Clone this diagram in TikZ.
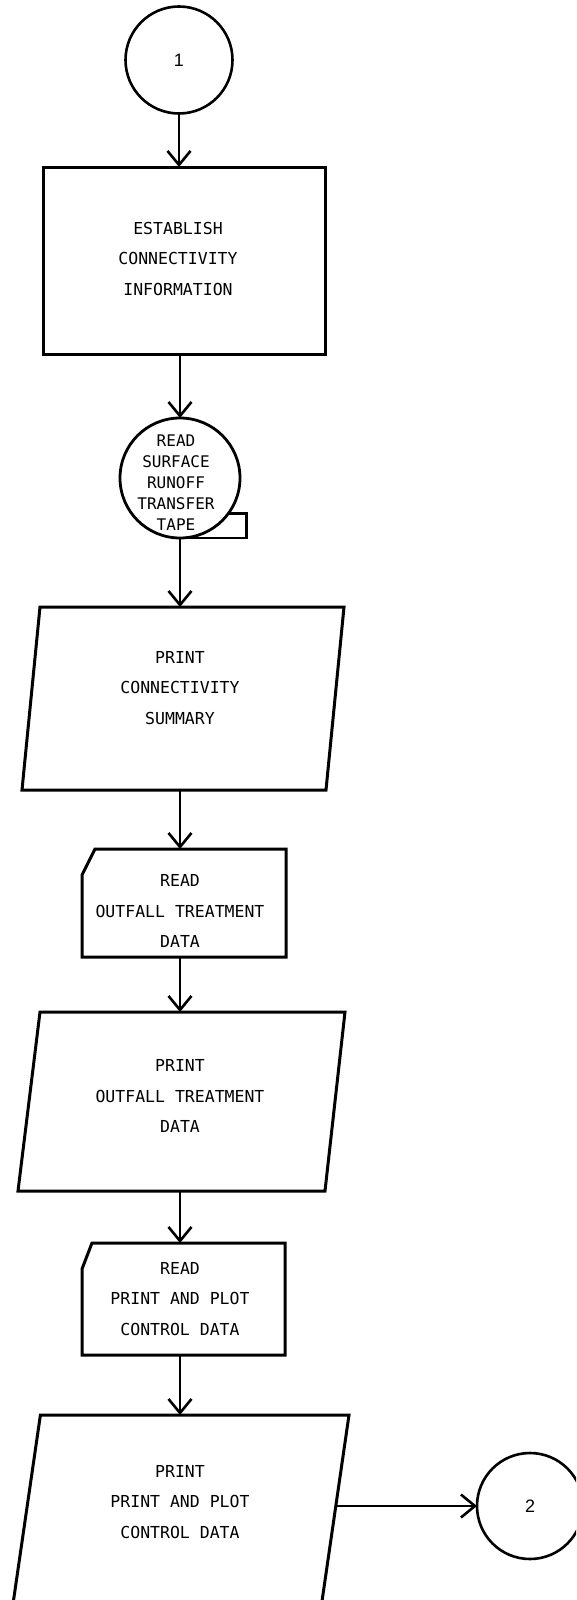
\documentclass[tikz,border=0pt]{standalone}
\usepackage{fontspec}
\newfontfamily\chartfont{DejaVu Sans Mono}
\newfontfamily\numfont{Liberation Sans}
\usetikzlibrary{arrows.meta,calc}
\begin{document}
\begin{tikzpicture}[x=1pt,y=-1pt,
  line width=3pt,
  frame/.style={inner sep=0pt, outer sep=0pt},
  boxshape/.style={frame, draw, rectangle},
  slot/.style={frame, rectangle},
  connector/.style={draw, circle, frame, line width=2.6pt, minimum size=#1,
    font=\numfont\fontsize{18}{20}\selectfont},
  tapereel/.style={draw, circle, frame, line width=2.8pt, minimum size=120},
  txt/.style={align=center, inner sep=0pt,
    font=\chartfont\fontsize{16.5}{30.5}\selectfont},
  tapetxt/.style={align=center, inner sep=0pt,
    font=\chartfont\fontsize{16}{21}\selectfont},
  flow/.style={line width=2.6pt, -{Straight Barb[length=14pt,width=23pt,line width=2.6pt]}}
]
\clip (0,0) rectangle (576,1600);

% entry connector
\node[connector=107] (start) at (179,60) {1};

% process box
\node[boxshape, minimum width=282, minimum height=187] (conn) at (184,260.5) {};
\node[txt] (conntxt) at (178,258.5) {ESTABLISH\\CONNECTIVITY\\ INFORMATION};

% magnetic tape input
\node[tapereel] (tape) at (180,478) {};
\draw[line width=2.8pt] (tape.-36) -- ++(18,0) |- (tape.south);
\node[tapetxt] (tapetxt) at (176,483) {READ\\SURFACE\\RUNOFF\\TRANSFER\\TAPE};

% output: connectivity summary
\node[slot, minimum width=304, minimum height=183] (sum) at (183,698.5) {};
\draw ($(sum.north west)+(9,0)$) -- ($(sum.north east)+(9,0)$)
  -- ($(sum.south east)+(-9,0)$) -- ($(sum.south west)+(-9,0)$) -- cycle;
\node[txt] (sumtxt) at (180,688) {PRINT\\CONNECTIVITY\\ SUMMARY};

% card input: outfall treatment data
\node[slot, minimum width=204, minimum height=108] (card1) at (184,903) {};
\draw ($(card1.north west)+(13,0)$) -- (card1.north east) -- (card1.south east)
  -- (card1.south west) -- ($(card1.north west)+(0,26)$) -- cycle;
\node[txt] (card1txt) at (180,911) {READ\\OUTFALL TREATMENT\\DATA};

% output: outfall treatment data
\node[slot, minimum width=306, minimum height=179] (otd) at (182,1101.5) {};
\draw ($(otd.north west)+(11,0)$) -- ($(otd.north east)+(10,0)$)
  -- ($(otd.south east)+(-10,0)$) -- ($(otd.south west)+(-11,0)$) -- cycle;
\node[txt] (otdtxt) at (180,1096) {PRINT\\OUTFALL TREATMENT\\DATA};

% card input: print and plot control data
\node[slot, minimum width=203, minimum height=112] (card2) at (183.5,1299) {};
\draw ($(card2.north west)+(10,0)$) -- (card2.north east) -- (card2.south east)
  -- (card2.south west) -- ($(card2.north west)+(0,26)$) -- cycle;
\node[txt] (card2txt) at (180,1299) {READ\\PRINT AND PLOT\\CONTROL DATA};

% output: print and plot control data
\node[slot, minimum width=308.6, minimum height=200] (ppc) at (180.2,1515) {};
\draw ($(ppc.north west)+(14.5,0)$) -- ($(ppc.north east)+(14.5,0)$)
  -- ($(ppc.south east)+(-14.5,0)$) -- ($(ppc.south west)+(-14.5,0)$) -- cycle;
\node[txt] (ppctxt) at (180,1502) {PRINT\\PRINT AND PLOT\\CONTROL DATA};

% exit connector
\node[connector=106] (next) at (530,1506) {2};

% flow lines
\draw[flow] (start.south) -- (start.south |- conn.north);
\draw[flow] (tape.north |- conn.south) -- (tape.north);
\draw[flow] (tape.south) -- (tape.south |- sum.north);
\draw[flow] (tape.south |- sum.south) -- (tape.south |- card1.north);
\draw[flow] (tape.south |- card1.south) -- (tape.south |- otd.north);
\draw[flow] (tape.south |- otd.south) -- (tape.south |- card2.north);
\draw[flow] (tape.south |- card2.south) -- (tape.south |- ppc.north);
\draw[flow] (next.west -| ppc.east) -- (next.west);
\end{tikzpicture}
\end{document}
